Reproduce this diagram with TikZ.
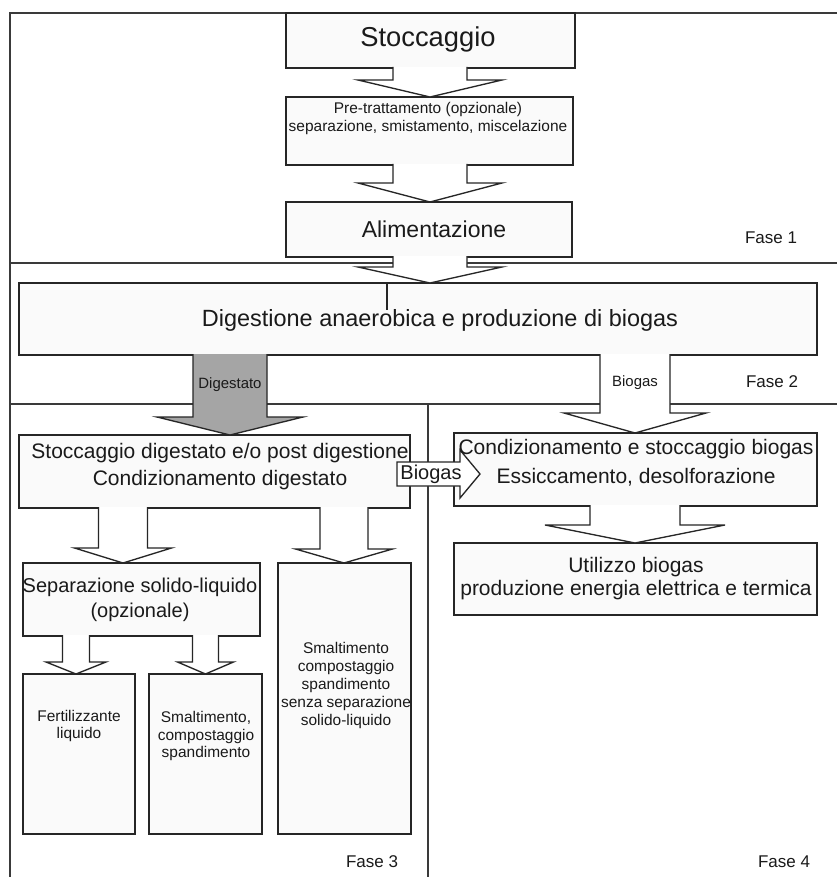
\documentclass[tikz,border=0pt]{standalone}
\usepackage{fontspec}
\setmainfont{Liberation Sans}
\usetikzlibrary{calc,fit}

\definecolor{boxline}{HTML}{262626}
\definecolor{boxfill}{HTML}{FAFAFA}
\definecolor{frameln}{HTML}{3A3A3A}
\definecolor{digfill}{HTML}{A5A5A5}
\definecolor{ink}{HTML}{1A1A1A}

\newcommand\fs[2]{\fontsize{#1}{#2}\selectfont}

% Block arrow pointing down: #1 style, #2 axis coordinate, #3 source node,
% #4 target node, #5 shaft half width, #6 head half width, #7 head height
\newcommand\blockdown[7]{%
  \filldraw[#1] ($(#2|-#3.south)+(-#5,-1)$) -- ($(#2|-#4.north)+(-#5,-#7)$)
    -- ($(#2|-#4.north)+(-#6,-#7)$) -- (#2|-#4.north)
    -- ($(#2|-#4.north)+(#6,-#7)$) -- ($(#2|-#4.north)+(#5,-#7)$)
    -- ($(#2|-#3.south)+(#5,-1)$);}

\tikzset{
  box/.style={draw=boxline, fill=boxfill, line width=1.15pt, inner sep=0pt, outer sep=0pt},
  txt/.style={inner sep=0pt, align=center, text=ink},
  blk/.style={draw=boxline, fill=white, line width=1pt, line join=miter},
  blkgrey/.style={blk, fill=digfill},
  frameline/.style={draw=frameln, line width=0.85pt},
}

\begin{document}
\begin{tikzpicture}[x=0.75pt, y=-0.75pt]
\useasboundingbox (0,0) rectangle (837,877);
\fill[white] (0,0) rectangle (837,877);

% phase frame and separators
\draw[frameline] (837,13) -- (10,13) -- (10,877);
\draw[frameline] (10,263) -- (837,263);
\draw[frameline] (10,404) -- (837,404);
\draw[frameline] (428,404) -- (428,877);

% process boxes
\node[box, fit={(286,13) (575,68)}]   (stocc) {};
\node[box, fit={(286,97) (573,165)}]  (pre)   {};
\node[box, fit={(286,202) (572,257)}] (alim)  {};
\node[box, fit={(19,283) (817,355)}]  (dig)   {};
\node[box, fit={(19,435) (410,508)}]  (sd)    {};
\node[box, fit={(454,433) (817,506)}] (cond)  {};
\node[box, fit={(454,543) (817,615)}] (util)  {};
\node[box, fit={(23,563) (260,636)}]  (sep)   {};
\node[box, fit={(278,563) (411,834)}] (smsenza) {};
\node[box, fit={(23,674) (135,834)}]  (fert)  {};
\node[box, fit={(149,674) (262,834)}] (smalt) {};

% short mark on the digester box
\coordinate (tick) at (387,310);
\draw[boxline, line width=0.8pt] (tick |- dig.north) -- (tick);

% arrow axes
\coordinate (axA) at (430,0);
\coordinate (axD) at (230,0);
\coordinate (axB) at (635,0);
\coordinate (axS1) at (123,0);
\coordinate (axS2) at (344,0);
\coordinate (axF) at (76,0);
\coordinate (axM) at (205.5,0);
\coordinate (axH) at (0,474);

% block arrows
\blockdown{blk}{axA}{stocc}{pre}{37}{72}{17}
\blockdown{blk}{axA}{pre}{alim}{37}{72}{19}
\blockdown{blk}{axA}{alim}{dig}{37}{72}{16}
\blockdown{blkgrey}{axD}{dig}{sd}{37}{73}{18}
\blockdown{blk}{axB}{dig}{cond}{35}{71}{20}
\blockdown{blk}{axB}{cond}{util}{45}{90}{18}
\blockdown{blk}{axS1}{sd}{sep}{24.5}{48.5}{15}
\blockdown{blk}{axS2}{sd}{smsenza}{24}{48.5}{14}
\blockdown{blk}{axF}{sep}{fert}{13.5}{30}{12}
\blockdown{blk}{axM}{sep}{smalt}{13}{28}{12}

% horizontal biogas arrow between the two storage boxes
\filldraw[blk] ($(sd.east|-axH)+(-13,-12)$) -- ($(cond.west|-axH)+(6,-12)$)
  -- ($(cond.west|-axH)+(6,-24)$) -- ($(cond.west|-axH)+(26,0)$)
  -- ($(cond.west|-axH)+(6,24)$) -- ($(cond.west|-axH)+(6,12)$)
  -- ($(sd.east|-axH)+(-13,12)$) -- cycle;

% texts
\node[txt, font=\fs{20.5}{24}] (tStocc) at (428,39) {Stoccaggio};
\node[txt, font=\fs{11.6}{13.5}] (tPre) at (428,119)
  {Pre-trattamento (opzionale)\\separazione, smistamento, miscelazione};
\node[txt, font=\fs{17.25}{20}] (tAlim) at (434,229) {Alimentazione};
\node[txt, font=\fs{17.6}{20}] (tDig) at (440,320) {Digestione anaerobica e produzione di biogas};
\node[txt, font=\fs{15.75}{20.25}] (tSd) at (220,467)
  {Stoccaggio digestato e/o post digestione\\Condizionamento digestato};
\node[txt, font=\fs{15.75}{21.5}] (tCond) at (636,463)
  {Condizionamento e stoccaggio biogas\\Essiccamento, desolforazione};
\node[txt, font=\fs{15.75}{17.25}] (tUtil) at (636,579)
  {Utilizzo biogas\\produzione energia elettrica e termica};
\node[txt, font=\fs{15}{18.75}] (tSep) at (140,600)
  {Separazione solido-liquido\\(opzionale)};
\node[txt, font=\fs{11.6}{13}] (tFert) at (79,726) {Fertilizzante\\liquido};
\node[txt, font=\fs{11.6}{13.1}] (tSmalt) at (206,736)
  {Smaltimento,\\compostaggio\\spandimento};
\node[txt, font=\fs{11.6}{13.5}] (tSenza) at (346,685)
  {Smaltimento\\compostaggio\\spandimento\\senza separazione\\solido-liquido};
\node[txt, font=\fs{11.2}{13}] (tDigst) at (230,385) {Digestato};
\node[txt, font=\fs{11.2}{13}] (tBio) at (635,383) {Biogas};
\node[txt, font=\fs{15}{18}] (tBioH) at (431,474) {Biogas};
\node[txt, font=\fs{12.75}{15}] (f1) at (771,238) {Fase 1};
\node[txt, font=\fs{12.75}{15}] (f2) at (772,382) {Fase 2};
\node[txt, font=\fs{12.75}{15}] (f3) at (372,862) {Fase 3};
\node[txt, font=\fs{12.75}{15}] (f4) at (784,862) {Fase 4};
\end{tikzpicture}
\end{document}
